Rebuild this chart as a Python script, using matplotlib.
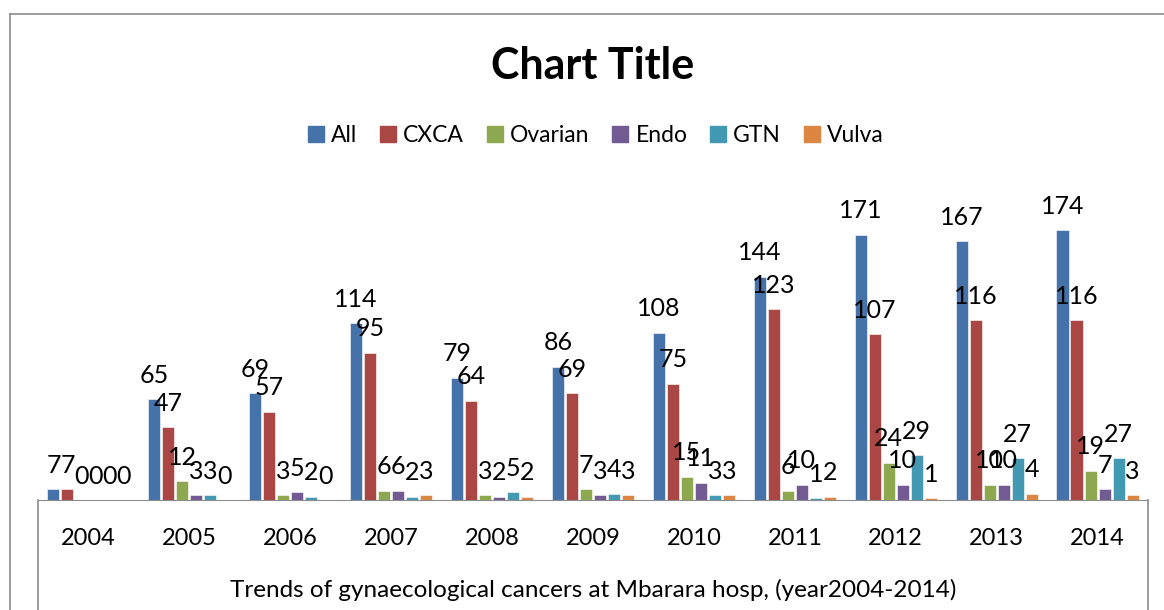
import numpy as np
import matplotlib
matplotlib.use("Agg")
import matplotlib.pyplot as plt
from matplotlib.lines import Line2D

plt.rcParams['font.family'] = ['Lato', 'DejaVu Sans']

years = ["2004", "2005", "2006", "2007", "2008", "2009", "2010", "2011", "2012", "2013", "2014"]
all_c = [7, 65, 69, 114, 79, 86, 108, 144, 171, 167, 174]
cxca = [7, 47, 57, 95, 64, 69, 75, 123, 107, 116, 116]
ovarian = [0, 12, 3, 6, 3, 7, 15, 6, 24, 10, 19]
endo = [0, 3, 5, 6, 2, 3, 11, 10, 10, 10, 7]
gtn = [0, 3, 2, 2, 5, 4, 3, 1, 29, 27, 27]
vulva = [0, 0, 0, 3, 2, 3, 3, 2, 1, 4, 3]

series = ["All", "CXCA", "Ovarian", "Endo", "GTN", "Vulva"]
values = [all_c, cxca, ovarian, endo, gtn, vulva]
colors = ["#4672AA", "#AA4644", "#8DA84E", "#725A92", "#4299B1", "#DD8641"]

fig = plt.figure(figsize=(11.64, 6.10), dpi=100)
W, H = 1164, 610
ax = fig.add_axes([38 / W, 1 - 500 / H, (1148 - 38) / W, (500 - 190) / H])

x = np.arange(len(years))
slot = 0.139
for i, (name, vals, col) in enumerate(zip(series, values, colors)):
    pos = x + (i - 2.5) * slot
    ax.bar(pos, vals, width=slot * 0.86, color=col, edgecolor="white", linewidth=0.4, label=name)
    for px, v in zip(pos, vals):
        ax.annotate(str(v), (px, v), xytext=(0, 9), textcoords="offset points",
                    ha="center", va="bottom", fontsize=18)

ax.set_xlim(-0.5, len(years) - 0.5)
ax.set_ylim(0, 200)
ax.set_yticks([])
ax.set_xticks(x)
ax.set_xticklabels(years, fontsize=17)
ax.tick_params(axis="x", length=0, pad=20)
for s in ["top", "left", "right"]:
    ax.spines[s].set_visible(False)
ax.spines["bottom"].set_color("#8c8c8c")
ax.set_xlabel("Trends of gynaecological cancers at Mbarara hosp, (year2004-2014)", fontsize=17.5, labelpad=22)

# category box sides and outer chart border
for xp in [38, 1148]:
    fig.add_artist(Line2D([xp / W, xp / W], [0, 1 - 500 / H], color="#8c8c8c", lw=1.2))
fig.add_artist(Line2D([10 / W, 10 / W], [0, 1 - 14 / H], color="#8c8c8c", lw=1.2))
fig.add_artist(Line2D([10 / W, 1], [1 - 14 / H, 1 - 14 / H], color="#8c8c8c", lw=1.2))

fig.text(593 / W, 1 - 66 / H, "Chart Title", ha="center", va="center", fontsize=31, fontweight="bold")

handles = [Line2D([], [], marker="s", linestyle="", color=c, markersize=11) for c in colors]
fig.legend(handles, series, loc="center", bbox_to_anchor=(596 / W, 1 - 136 / H), ncol=6,
           frameon=False, fontsize=16.5, handlelength=0.7, handletextpad=0.3, columnspacing=1.0)

fig.savefig("out.png", dpi=100)
